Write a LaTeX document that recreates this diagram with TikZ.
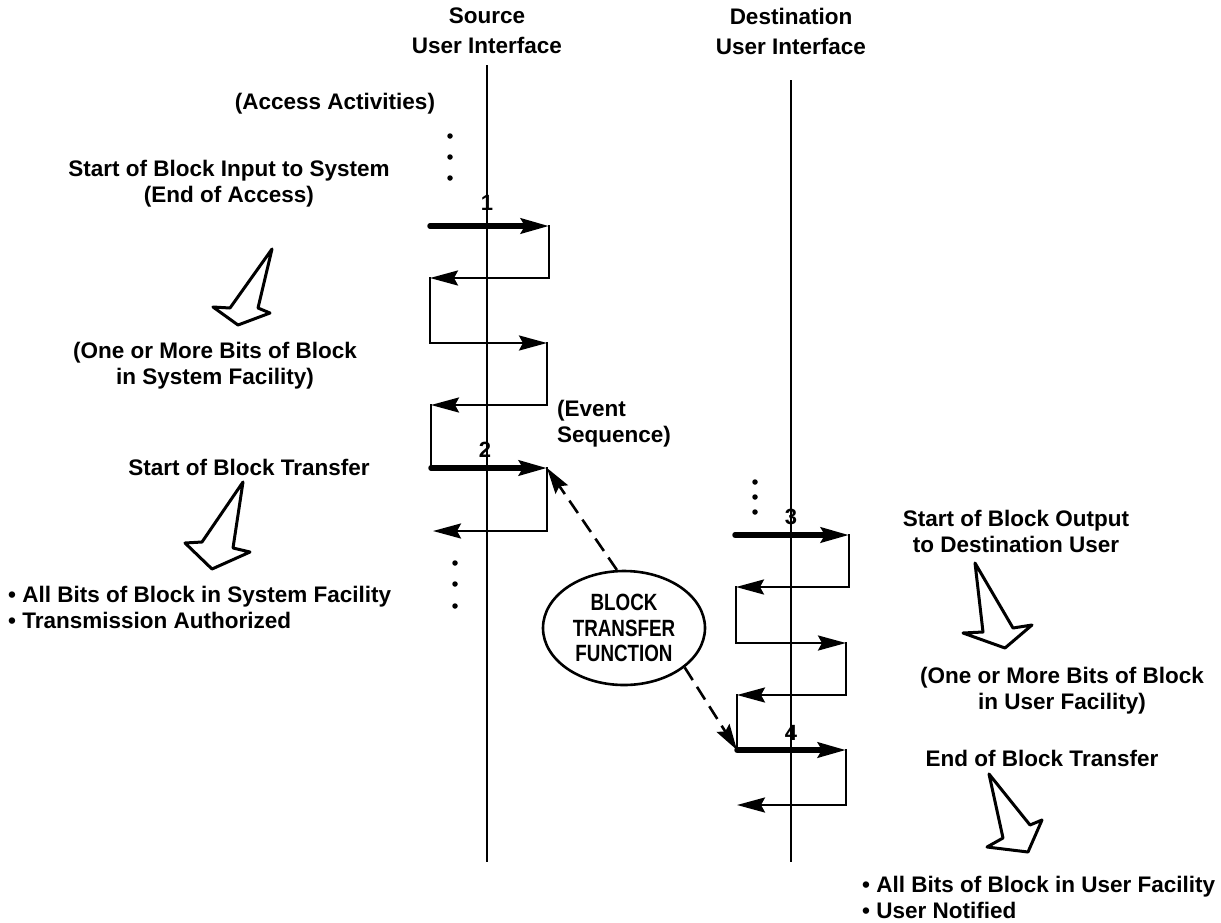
\documentclass[tikz,border=0pt]{standalone}
\usepackage{fontspec}
\setmainfont{Liberation Sans}
\newfontfamily\narrowfont[FakeStretch=0.8]{Liberation Sans}
\usetikzlibrary{arrows.meta,shapes.geometric}
\begin{document}
\begin{tikzpicture}[x=1pt,y=-1pt,
  lbl/.style={font=\fontsize{22.5}{26}\selectfont\bfseries, inner sep=0pt, align=center},
  num/.style={font=\fontsize{22}{24}\selectfont\bfseries, inner sep=0pt},
  axis/.style={line width=2.6pt},
  thinline/.style={line width=2.6pt},
  thickline/.style={line width=5.5pt, line cap=round},
  vert/.style={line width=2.6pt, line cap=rect},
  hd/.style={-{Stealth[length=28pt 0,width=15pt 0,inset=4pt 0]}},
  hollow/.style={line width=3pt, line join=round, fill=white},
  dashedarrow/.style={line width=2.6pt, dash pattern=on 15pt off 8pt, -{Stealth[length=26pt 0,width=15pt 0,inset=4pt 0]}},
  dot/.style={circle, fill=black, inner sep=0pt, minimum size=5.5pt}
]
\useasboundingbox (0,0) rectangle (1221,922);

% headings
\node[lbl, font=\fontsize{22.5}{30}\selectfont\bfseries] (src) at (487,31) {Source\\User Interface};
\node[lbl, font=\fontsize{22.5}{30}\selectfont\bfseries] (dst) at (791,31) {Destination\\User Interface};

% vertical interface lines
\coordinate (s0) at (487,65); \coordinate (s1) at (487,862);
\coordinate (d0) at (791,80); \coordinate (d1) at (791,862);
\draw[axis] (s0) -- (s1);
\draw[axis] (d0) -- (d1);

% left texts
\node[lbl] (acc) at (335,104) {(Access Activities)};
\node[lbl] (t1) at (229,184) {Start of Block Input to System\\(End of Access)};
\node[lbl] (t2) at (215,366) {(One or More Bits of Block\\in System Facility)};
\node[lbl, align=left, anchor=west] (ev) at (557,424) {(Event\\Sequence)};
\node[lbl] (t3) at (249,467) {Start of Block Transfer};
\node[lbl, align=left, anchor=west] (t4) at (8,607) {\textbullet\ All Bits of Block in System Facility\\\textbullet\ Transmission Authorized};

% right texts
\node[lbl] (t5) at (1016,531) {Start of Block Output\\to Destination User};
\node[lbl] (t6) at (1062,691) {(One or More Bits of Block\\in User Facility)};
\node[lbl] (t7) at (1042,758) {End of Block Transfer};
\node[lbl, align=left, anchor=west] (t8) at (862,897) {\textbullet\ All Bits of Block in User Facility\\\textbullet\ User Notified};

% numbers
\node[num] (n1) at (487,203) {1};
\node[num] (n2) at (485,450) {2};
\node[num] (n3) at (791,517) {3};
\node[num] (n4) at (791,733) {4};

% dots
\foreach \y [count=\i] in {136,157,178} \node[dot] (da\i) at (450,\y) {};
\foreach \y [count=\i] in {563,584,606} \node[dot] (db\i) at (455,\y) {};
\foreach \y [count=\i] in {482,497,512} \node[dot] (dc\i) at (755,\y) {};

% zigzag 1 (source)
\coordinate (a1) at (430,226); \coordinate (a2) at (549,226);
\coordinate (a3) at (549,278); \coordinate (a4) at (430,278);
\coordinate (a5) at (430,343); \coordinate (a6) at (547,343);
\coordinate (a7) at (547,405); \coordinate (a8) at (431,405);
\coordinate (a9) at (431,468); \coordinate (a10) at (547,468);
\coordinate (a11) at (547,531); \coordinate (a12) at (433,531);
\draw[vert] (a2) -- (a3);
\draw[vert] (a4) -- (a5);
\draw[vert] (a6) -- (a7);
\draw[vert] (a8) -- (a9);
\draw[vert] (a10) -- (a11);
\draw[thickline, hd] (a1) -- (a2);
\draw[thinline, hd] (a3) -- (a4);
\draw[thinline, hd] (a5) -- (a6);
\draw[thinline, hd] (a7) -- (a8);
\draw[thickline, hd] (a9) -- (a10);
\draw[thinline, hd] (a11) -- (a12);

% zigzag 2 (destination)
\coordinate (b1) at (735,535); \coordinate (b2) at (849,535);
\coordinate (b3) at (849,587); \coordinate (b4) at (736,587);
\coordinate (b5) at (736,643); \coordinate (b6) at (846,643);
\coordinate (b7) at (846,695); \coordinate (b8) at (737,695);
\coordinate (b9) at (737,750); \coordinate (b10) at (846,750);
\coordinate (b11) at (846,805); \coordinate (b12) at (737,805);
\draw[vert] (b2) -- (b3);
\draw[vert] (b4) -- (b5);
\draw[vert] (b6) -- (b7);
\draw[vert] (b8) -- (b9);
\draw[vert] (b10) -- (b11);
\draw[thickline, hd] (b1) -- (b2);
\draw[thinline, hd] (b3) -- (b4);
\draw[thinline, hd] (b5) -- (b6);
\draw[thinline, hd] (b7) -- (b8);
\draw[thickline, hd] (b9) -- (b10);
\draw[thinline, hd] (b11) -- (b12);

% ellipse
\node[ellipse, draw, line width=2.6pt, minimum width=162pt, minimum height=114pt, inner sep=0pt,
      font=\narrowfont\fontsize{23.5}{25.5}\selectfont\bfseries, align=center] (btf) at (624,628)
      {BLOCK\\TRANSFER\\FUNCTION};
\draw[dashedarrow] (btf.97) -- (a10);
\draw[dashedarrow] (btf.-33) -- (b9);

% hollow arrows
\draw[hollow] (272,249) -- (258,308) -- (270,313) -- (238,325) -- (213,307) -- (230,308) -- cycle;
\draw[hollow] (243,482) -- (233,548) -- (250,552) -- (212,569) -- (185,543) -- (202,542) -- cycle;
\draw[hollow] (975,563) -- (983,632) -- (963,633) -- (1005,648) -- (1032,625) -- (1013,628) -- cycle;
\draw[hollow] (989,774) -- (1003,838) -- (987,847) -- (1028,852) -- (1042,820) -- (1030,825) -- cycle;
\end{tikzpicture}
\end{document}
